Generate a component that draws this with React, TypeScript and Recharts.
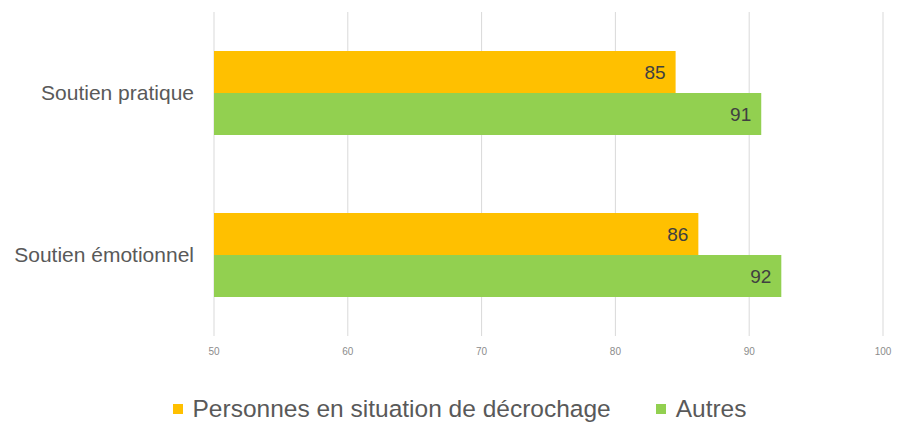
import * as React from "react";
import { BarChart, Bar, XAxis, YAxis, CartesianGrid, Legend, LabelList } from "recharts";

const categories = ["Soutien pratique", "Soutien émotionnel"];
const decrochage = [84.5, 86.2];
const autres = [90.9, 92.4];
const xTicks = [50, 60, 70, 80, 90, 100];

const seriesNames = ["Personnes en situation de décrochage", "Autres"];
const seriesColors = ["#FFC000", "#92D050"];

const data = categories.map((name, i) => ({
  name,
  decrochage: decrochage[i],
  autres: autres[i],
}));

const FONT = "'Liberation Sans', Arial, sans-serif";

function LegendBox() {
  return (
    <div
      style={{
        display: "flex",
        justifyContent: "center",
        alignItems: "center",
        paddingTop: 20,
        paddingLeft: 36,
        fontFamily: FONT,
        fontSize: 24.5,
        color: "#595959",
        lineHeight: "26px",
      }}
    >
      {seriesNames.map((s, i) => (
        <div key={s} style={{ display: "flex", alignItems: "center", marginLeft: i ? 45 : 0 }}>
          <span
            style={{ width: 10, height: 10, background: seriesColors[i], display: "inline-block", marginRight: 10 }}
          />
          <span>{s}</span>
        </div>
      ))}
    </div>
  );
}

export default function App() {
  const fmt = (v: any) => Math.round(Number(v));
  return (
    <div style={{ position: "absolute", left: 0, top: 0, width: 898, height: 423, background: "#fff" }}>
      <BarChart
        width={898}
        height={423}
        data={data}
        layout="vertical"
        barGap={0}
        margin={{ top: 12, right: 15, left: 0, bottom: 0 }}
      >
        <CartesianGrid horizontal={false} stroke="#d9d9d9" />
        <XAxis
          type="number"
          domain={[50, 100]}
          ticks={xTicks}
          axisLine={false}
          tickLine={false}
          tickSize={0}
          tickMargin={12}
          height={40}
          tick={{ fontSize: 10, fill: "#8c8c8c", fontFamily: FONT }}
        />
        <YAxis
          type="category"
          dataKey="name"
          width={214}
          axisLine={false}
          tickLine={false}
          tickSize={0}
          tickMargin={20}
          tick={{ fontSize: 21, fill: "#595959", fontFamily: FONT }}
        />
        <Legend verticalAlign="bottom" height={47} content={() => <LegendBox />} />
        <Bar dataKey="decrochage" name={seriesNames[0]} fill={seriesColors[0]} barSize={42} isAnimationActive={false}>
          <LabelList
            dataKey="decrochage"
            position="insideRight"
            offset={10}
            formatter={fmt}
            style={{ fontSize: 19, fill: "#404040", fontFamily: FONT }}
          />
        </Bar>
        <Bar dataKey="autres" name={seriesNames[1]} fill={seriesColors[1]} barSize={42} isAnimationActive={false}>
          <LabelList
            dataKey="autres"
            position="insideRight"
            offset={10}
            formatter={fmt}
            style={{ fontSize: 19, fill: "#404040", fontFamily: FONT }}
          />
        </Bar>
      </BarChart>
    </div>
  );
}
